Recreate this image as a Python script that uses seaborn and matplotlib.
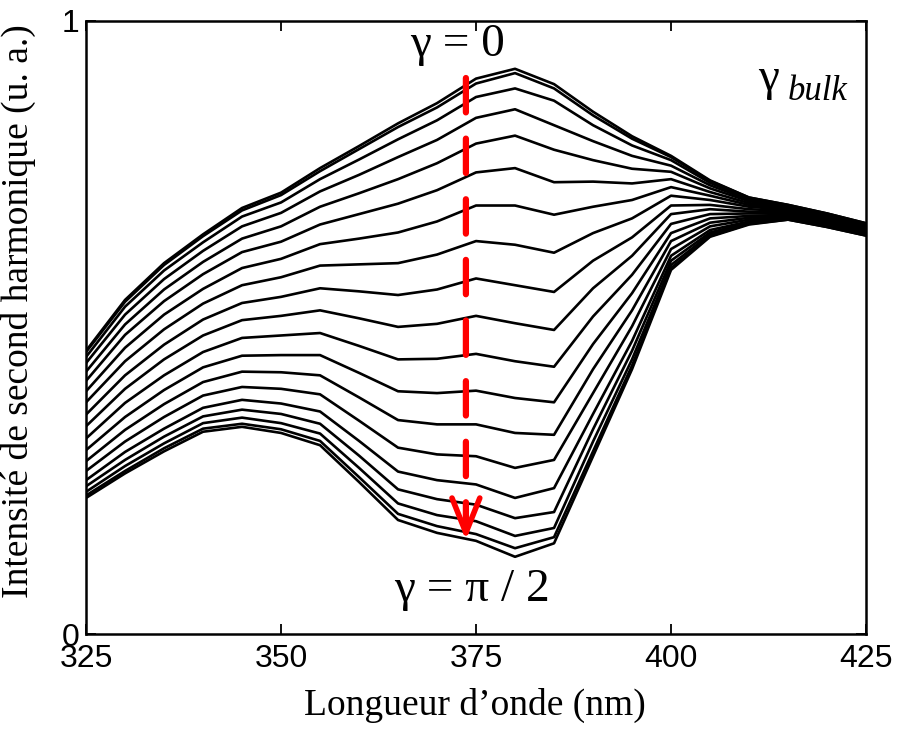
import matplotlib

matplotlib.use("Agg")
import matplotlib.pyplot as plt
import pandas as pd
import seaborn as sns

# --------------------------------------------------------------------------- #
# Data (SHG intensity vs wavelength, gamma 0 -> pi/2)
# --------------------------------------------------------------------------- #
wavelength = [325, 330, 335, 340, 345, 350, 355, 360, 365, 370, 375,
              380, 385, 390, 395, 400, 405, 410, 415, 420, 425]

gamma_00 = [.462, .545, .605, .652, .695, .720, .760, .796, .833, .866, .906, .922, .897, .852, .812, .780, .740, .712, .700, .686, .670]
gamma_05 = [.460, .542, .602, .649, .691, .716, .755, .791, .827, .859, .898, .915, .890, .846, .808, .778, .739, .712, .700, .686, .670]
gamma_10 = [.452, .534, .593, .639, .681, .704, .742, .774, .807, .838, .876, .890, .870, .830, .797, .773, .736, .710, .699, .685, .669]
gamma_15 = [.442, .521, .579, .625, .665, .687, .722, .749, .778, .806, .842, .856, .830, .804, .780, .764, .732, .708, .698, .684, .668]
gamma_20 = [.428, .505, .562, .607, .645, .665, .697, .719, .742, .768, .800, .813, .790, .773, .759, .754, .727, .706, .697, .683, .667]
gamma_25 = [.413, .488, .543, .587, .623, .640, .668, .685, .702, .724, .753, .760, .737, .738, .735, .742, .721, .703, .695, .682, .666]
gamma_30 = [.396, .467, .521, .563, .597, .612, .636, .645, .655, .673, .699, .699, .684, .697, .708, .729, .715, .700, .693, .680, .665]
gamma_35 = [.378, .445, .497, .539, .569, .582, .601, .603, .605, .619, .641, .635, .622, .654, .678, .715, .708, .697, .692, .678, .663]
gamma_40 = [.358, .422, .472, .513, .540, .550, .564, .559, .553, .562, .580, .569, .558, .609, .647, .699, .700, .693, .690, .676, .661]
gamma_45 = [.339, .400, .448, .487, .512, .519, .528, .515, .501, .506, .519, .507, .496, .564, .617, .685, .693, .689, .688, .675, .660]
gamma_50 = [.319, .377, .422, .460, .483, .487, .491, .470, .448, .449, .457, .445, .436, .518, .586, .669, .685, .686, .686, .673, .658]
gamma_55 = [.300, .354, .398, .435, .454, .455, .455, .426, .396, .393, .397, .385, .378, .473, .556, .654, .678, .682, .684, .671, .657]
gamma_60 = [.282, .333, .375, .411, .428, .427, .422, .386, .349, .342, .342, .328, .325, .432, .528, .641, .671, .679, .682, .670, .655]
gamma_65 = [.266, .314, .354, .389, .403, .400, .391, .348, .304, .293, .290, .271, .284, .393, .502, .628, .665, .676, .680, .668, .654]
gamma_70 = [.251, .297, .335, .369, .382, .376, .363, .315, .265, .251, .244, .222, .238, .359, .478, .617, .659, .673, .679, .667, .652]
gamma_75 = [.241, .284, .322, .355, .366, .359, .343, .291, .236, .220, .211, .189, .199, .334, .462, .609, .655, .671, .678, .666, .652]
gamma_80 = [.232, .274, .311, .344, .353, .344, .327, .271, .213, .194, .184, .160, .173, .314, .448, .602, .652, .670, .677, .665, .651]
gamma_85 = [.226, .266, .303, .335, .343, .334, .315, .256, .196, .176, .163, .140, .158, .298, .438, .597, .649, .669, .676, .664, .650]
gamma_90 = [.222, .262, .298, .330, .338, .328, .308, .248, .186, .165, .152, .126, .148, .290, .432, .594, .648, .668, .676, .664, .650]

curves = {
    0: gamma_00, 5: gamma_05, 10: gamma_10, 15: gamma_15, 20: gamma_20,
    25: gamma_25, 30: gamma_30, 35: gamma_35, 40: gamma_40, 45: gamma_45,
    50: gamma_50, 55: gamma_55, 60: gamma_60, 65: gamma_65, 70: gamma_70,
    75: gamma_75, 80: gamma_80, 85: gamma_85, 90: gamma_90,
}

x_ticks = [325, 350, 375, 400, 425]
y_ticks = [0, 1]

# long form for seaborn
df = pd.concat(
    [pd.DataFrame({"wl": wavelength, "I": vals, "gamma": g}) for g, vals in curves.items()],
    ignore_index=True,
)

# --------------------------------------------------------------------------- #
# Style
# --------------------------------------------------------------------------- #
sns.set_style("ticks")
plt.rcParams["font.family"] = ["Liberation Sans Narrow", "Liberation Sans", "DejaVu Sans"]
plt.rcParams["text.color"] = "black"
plt.rcParams["axes.labelcolor"] = "black"
serif = ["Liberation Serif", "DejaVu Serif"]

fig = plt.figure(figsize=(9.01, 7.34), dpi=100)
ax = fig.add_axes([0.0955, 0.1362, 0.8657, 0.8352])

sns.lineplot(data=df, x="wl", y="I", units="gamma", estimator=None,
             color="black", lw=1.9, ax=ax, legend=False)

ax.set_xlim(325, 425)
ax.set_ylim(0, 1)
ax.set_xticks(x_ticks)
ax.set_yticks(y_ticks)
ax.tick_params(direction="in", top=True, right=True, length=7, width=1.3,
               labelsize=23, colors="black")
ax.tick_params(axis="x", pad=7)
ax.tick_params(axis="y", pad=5)
for s in ax.spines.values():
    s.set_linewidth(1.8)
    s.set_color("black")

ax.set_xlabel("Longueur d\u2019onde (nm)", family=serif, fontsize=27)
ax.set_ylabel("Intensité de second harmonique (u. a.)", family=serif, fontsize=27)
ax.xaxis.set_label_coords(0.499, -0.088)
ax.yaxis.set_label_coords(-0.064, 0.527)

# red dashed arrow (gamma increasing)
ax.annotate("", xy=(373.7, 0.17), xytext=(373.7, 0.907),
            arrowprops=dict(arrowstyle="-", color="red", lw=4.5,
                            ls=(0, (5.5, 4.2)), shrinkA=0, shrinkB=0))
ax.annotate("", xy=(373.7, 0.153), xytext=(373.7, 0.215),
            arrowprops=dict(arrowstyle="->, head_length=1.25, head_width=0.5",
                            mutation_scale=20, color="red", lw=4,
                            shrinkA=0, shrinkB=0))

ax.text(372.6, 0.961, "\u03b3 = 0", family=serif, fontsize=34,
        ha="center", va="center")
ax.text(374.5, 0.072, "\u03b3 = \u03c0 / 2", family=serif, fontsize=34,
        ha="center", va="center")
ax.text(412.5, 0.905, "\u03b3", family=serif, fontsize=34, ha="center", va="center")
ax.text(415.0, 0.885, "bulk", family=serif, style="italic", fontsize=25,
        ha="left", va="center")

fig.savefig("out.png", dpi=100)
plt.close(fig)
